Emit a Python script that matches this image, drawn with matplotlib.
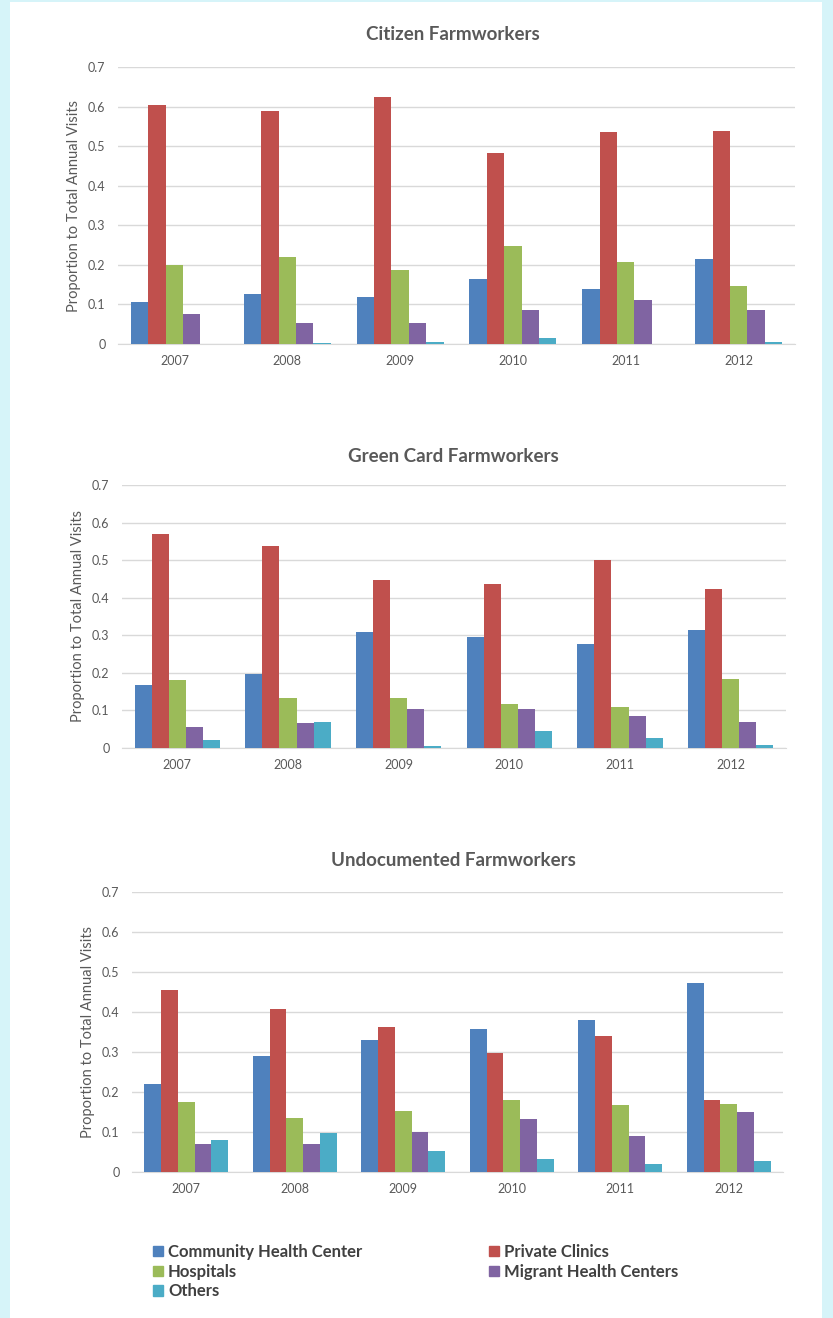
import numpy as np
import matplotlib
matplotlib.use("Agg")
import matplotlib.pyplot as plt
import matplotlib.patches as patches

plt.rcParams['font.family'] = ['Lato', 'DejaVu Sans']

years = ['2007', '2008', '2009', '2010', '2011', '2012']
series = ['Community Health Center', 'Private Clinics', 'Hospitals',
          'Migrant Health Centers', 'Others']
colors = ['#4F81BD', '#C0504D', '#9BBB59', '#8064A2', '#4BACC6']

# proportions per series, one list per year order
citizen_chc = [0.106, 0.126, 0.120, 0.163, 0.139, 0.215]
citizen_private = [0.603, 0.589, 0.624, 0.483, 0.536, 0.539]
citizen_hosp = [0.200, 0.221, 0.186, 0.247, 0.206, 0.147]
citizen_migrant = [0.077, 0.053, 0.053, 0.086, 0.110, 0.086]
citizen_other = [0.0, 0.003, 0.006, 0.015, 0.0, 0.005]

green_chc = [0.168, 0.198, 0.308, 0.296, 0.278, 0.314]
green_private = [0.569, 0.538, 0.446, 0.436, 0.501, 0.423]
green_hosp = [0.181, 0.132, 0.134, 0.118, 0.109, 0.184]
green_migrant = [0.057, 0.066, 0.103, 0.103, 0.085, 0.069]
green_other = [0.020, 0.069, 0.004, 0.044, 0.026, 0.007]

undoc_chc = [0.220, 0.290, 0.331, 0.357, 0.380, 0.473]
undoc_private = [0.454, 0.407, 0.363, 0.298, 0.340, 0.179]
undoc_hosp = [0.176, 0.135, 0.153, 0.179, 0.167, 0.170]
undoc_migrant = [0.071, 0.071, 0.099, 0.132, 0.091, 0.150]
undoc_other = [0.079, 0.097, 0.053, 0.033, 0.021, 0.027]

panels = [
    ('Citizen Farmworkers',
     [citizen_chc, citizen_private, citizen_hosp, citizen_migrant, citizen_other]),
    ('Green Card Farmworkers',
     [green_chc, green_private, green_hosp, green_migrant, green_other]),
    ('Undocumented Farmworkers',
     [undoc_chc, undoc_private, undoc_hosp, undoc_migrant, undoc_other]),
]

W, H = 833, 1318
fig = plt.figure(figsize=(W / 100, H / 100), dpi=100)
fig.patch.set_facecolor('#D6F4F9')
fig.add_artist(patches.Rectangle((10 / W, 0), 812 / W, 1 - 2 / H,
                                 transform=fig.transFigure,
                                 facecolor='white', edgecolor='none', zorder=0))

# axes boxes in pixels: left, right, top, bottom
boxes = [(118, 795, 67, 344), (122, 786, 485, 748), (132, 783, 892, 1172)]
title_y = [34, 456, 860]

grey = '#595959'
x = np.arange(len(years))
bw = 0.154

for (title, vals), (l, r, t, b), ty in zip(panels, boxes, title_y):
    ax = fig.add_axes([l / W, 1 - b / H, (r - l) / W, (b - t) / H])
    ax.set_facecolor('none')
    for i, v in enumerate(vals):
        ax.bar(x + (i - 2) * bw, v, width=bw, color=colors[i], zorder=3)
    ax.set_ylim(0, 0.7)
    ax.set_xlim(-0.5, len(years) - 0.5)
    ax.set_yticks(np.arange(0, 0.71, 0.1))
    ax.set_yticklabels(['0'] + ['%.1f' % v for v in np.arange(0.1, 0.71, 0.1)])
    ax.set_xticks(x)
    ax.set_xticklabels(years)
    ax.tick_params(length=0, labelsize=9, labelcolor=grey)
    ax.tick_params(axis='y', pad=9)
    ax.tick_params(axis='x', pad=8)
    ax.grid(axis='y', color='#D9D9D9', lw=1, zorder=0)
    for s in ['top', 'right', 'left']:
        ax.spines[s].set_visible(False)
    ax.spines['bottom'].set_color('#D9D9D9')
    ax.set_ylabel('Proportion to Total Annual Visits', fontsize=10.5,
                  color=grey, labelpad=5)
    fig.text(453 / W, 1 - ty / H, title, ha='center', va='center',
             fontsize=13.5, fontweight='bold', color=grey)

handles = [patches.Patch(color=c) for c in colors]
order = [0, 2, 4, 1, 3]
fig.legend([handles[i] for i in order], [series[i] for i in order],
           ncol=2, loc='upper left', bbox_to_anchor=(138 / W, 1 - 1229 / H),
           frameon=False, handlelength=0.6, handleheight=0.6,
           handletextpad=0.3, labelspacing=0.22, columnspacing=7.6,
           prop={'weight': 'bold', 'size': 12}, labelcolor='#404040')

fig.savefig('out.png', dpi=100)
